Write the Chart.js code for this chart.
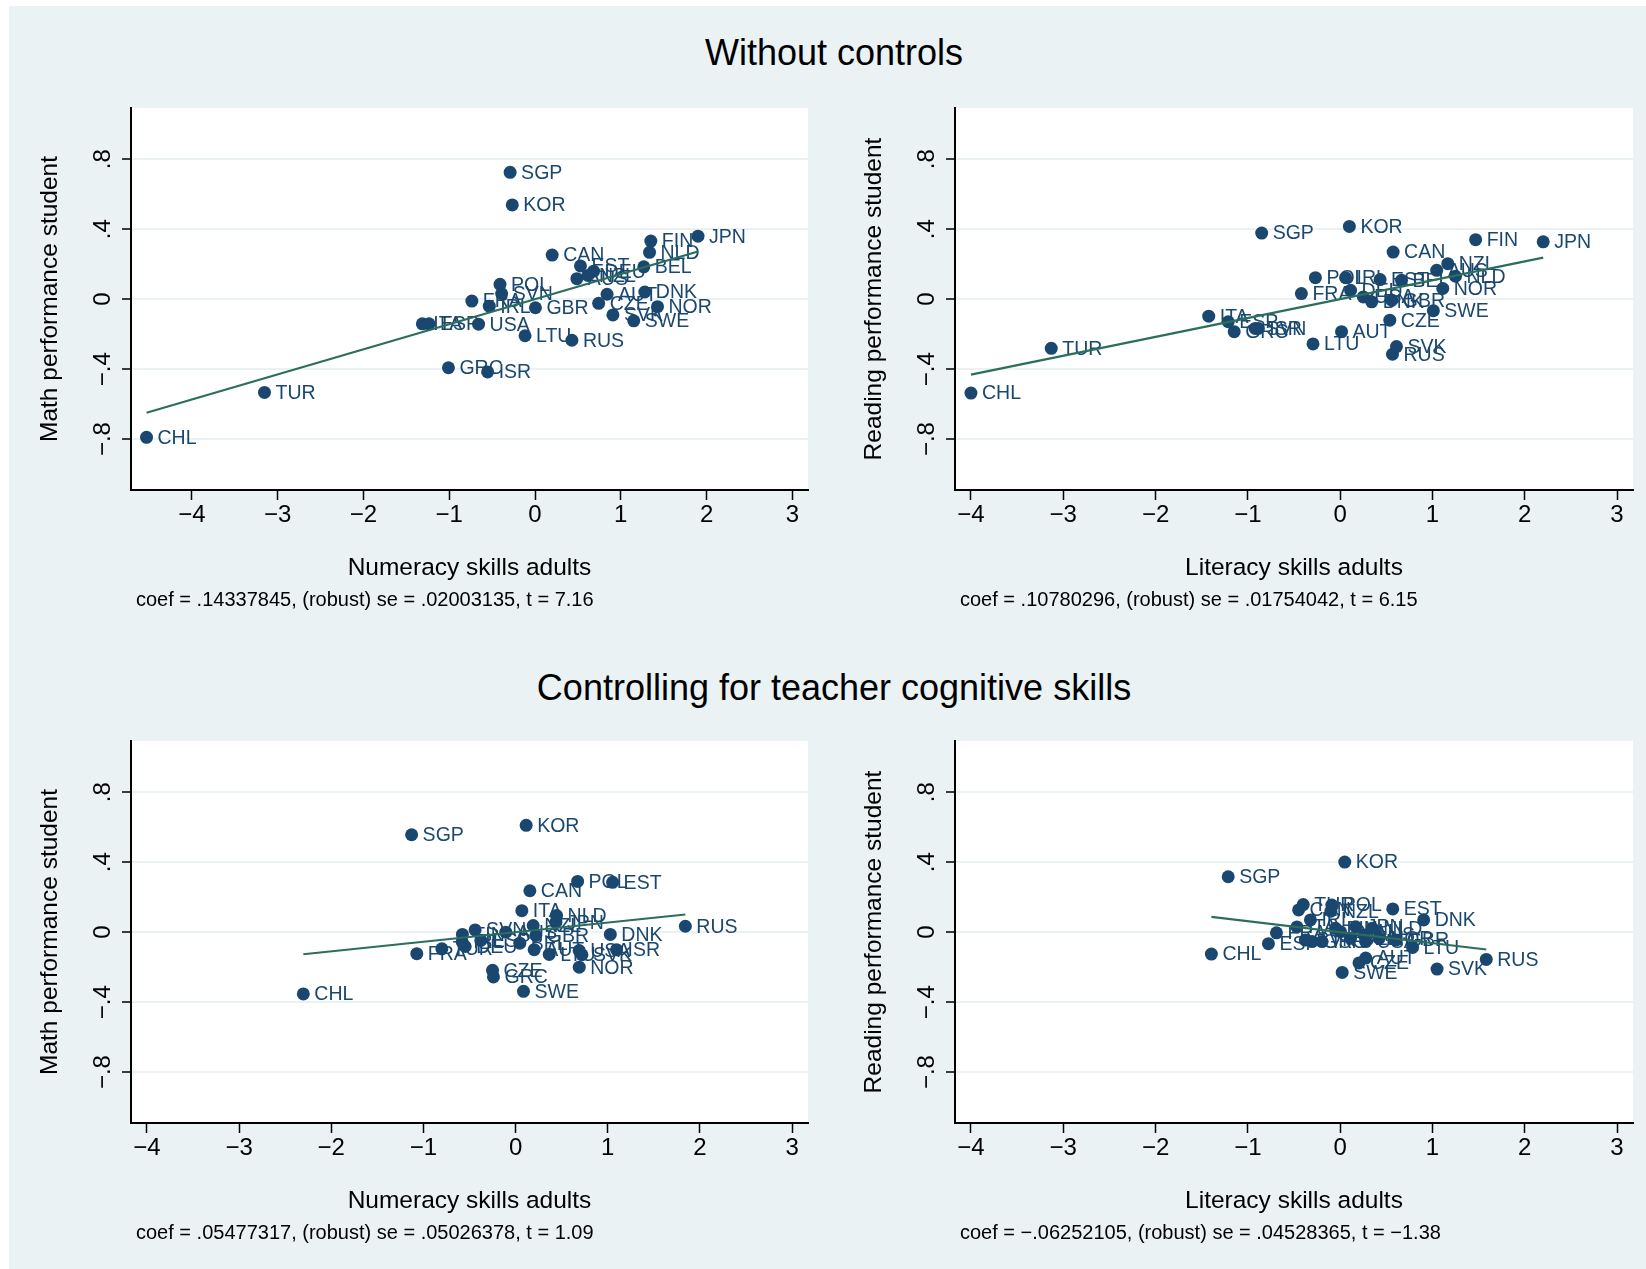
<!DOCTYPE html>
<html>
<head>
<meta charset="utf-8">
<script src="https://cdn.jsdelivr.net/npm/chart.js@4.4.1/dist/chart.umd.min.js"></script>
<style>
  html, body { margin: 0; padding: 0; background: #fff; }
  #page { position: relative; width: 1646px; height: 1269px; overflow: hidden; }
  #bg { position: absolute; left: 9px; top: 6px; right: 0; bottom: 0; background: #eaf2f3; }
  canvas { position: absolute; }
  .title { position: absolute; font: 36px 'Liberation Sans', Arial, sans-serif; line-height: 36px;
           white-space: nowrap; transform: translateX(-50%); color: #000; }
  .note { position: absolute; font: 20px 'Liberation Sans', Arial, sans-serif; line-height: 20px;
          white-space: nowrap; color: #000; }
</style>
</head>
<body>
<div id="page">
  <div id="bg"></div>
  <div class="title" style="left:834px; top:35px;">Without controls</div>
  <div class="title" style="left:834px; top:670px;">Controlling for teacher cognitive skills</div>
  <canvas id="p1"></canvas>
  <canvas id="p2"></canvas>
  <canvas id="p3"></canvas>
  <canvas id="p4"></canvas>
  <div class="note" id="n1" style="left:136px; top:589px;"></div>
  <div class="note" id="n2" style="left:960px; top:589px;"></div>
  <div class="note" id="n3" style="left:136px; top:1222px;"></div>
  <div class="note" id="n4" style="left:960px; top:1222px;"></div>
</div>
<script>
// Datos (residuos de avplot)
const countries = ['AUS', 'AUT', 'BEL', 'CAN', 'CHL', 'CZE', 'DNK', 'EST', 'FIN', 'FRA', 'DEU',
  'GRC', 'IRL', 'ISR', 'ITA', 'JPN', 'KOR', 'LTU', 'NLD', 'NZL', 'NOR', 'POL', 'RUS', 'SGP',
  'SVK', 'SVN', 'ESP', 'SWE', 'TUR', 'GBR', 'USA'];

// Sin controles
const numeracyRaw = [0.488, 0.84, 1.268, 0.20, -4.528, 0.742, 1.28, 0.53, 1.35, -0.736, 0.683,
  -1.009, -0.533, -0.552, -1.313, 1.90, -0.265, -0.116, 1.335, 0.617, 1.428, -0.408, 0.43, -0.29,
  0.908, -0.389, -1.235, 1.151, -3.153, 0.005, -0.658];
const mathRaw = [0.117, 0.028, 0.185, 0.252, -0.79, -0.024, 0.041, 0.19, 0.332, -0.011, 0.16,
  -0.392, -0.04, -0.416, -0.141, 0.36, 0.539, -0.209, 0.268, 0.136, -0.043, 0.085, -0.235, 0.725,
  -0.09, 0.032, -0.141, -0.124, -0.533, -0.049, -0.143];
const literacyRaw = [1.046, 0.015, 0.665, 0.574, -4.0, 0.538, 0.342, 0.433, 1.468, -0.42, 0.113,
  -1.148, 0.059, -0.886, -1.424, 2.2, 0.10, -0.294, 1.25, 1.166, 1.112, -0.268, 0.567, -0.85,
  0.61, -0.92, -1.213, 1.01, -3.13, 0.56, 0.251];
const readingRaw = [0.165, -0.186, 0.108, 0.269, -0.537, -0.12, -0.015, 0.112, 0.34, 0.032, 0.051,
  -0.186, 0.123, -0.167, -0.097, 0.328, 0.416, -0.256, 0.131, 0.203, 0.061, 0.123, -0.315, 0.378,
  -0.271, -0.167, -0.129, -0.066, -0.281, -0.006, 0.013];

// Controlando por habilidades del profesorado
const numeracyCtrl = [-0.106, 0.202, 0.046, 0.155, -2.303, -0.25, 1.028, 1.053, -0.577, -1.072, -0.547,
  -0.24, -0.58, 1.096, 0.068, 0.438, 0.115, 0.365, 0.445, 0.191, 0.691, 0.673, 1.842, -1.128,
  0.72, -0.439, -0.377, 0.086, -0.80, 0.22, 0.69];
const mathCtrl = [0.0, -0.10, -0.063, 0.237, -0.353, -0.218, -0.013, 0.285, -0.013, -0.123, -0.082,
  -0.256, -0.055, -0.10, 0.123, 0.057, 0.611, -0.127, 0.095, 0.038, -0.2, 0.29, 0.034, 0.557,
  -0.129, 0.013, -0.047, -0.338, -0.095, -0.019, -0.105];
const literacyCtrl = [0.258, 0.277, 0.113, -0.45, -1.395, 0.204, 0.905, 0.57, -0.05, -0.69, 0.004,
  -0.305, -0.322, -0.196, -0.468, 0.168, 0.05, 0.785, 0.349, -0.1, 0.422, -0.09, 1.583, -1.213,
  1.05, -0.377, -0.777, 0.022, -0.4, 0.604, 0.277];
const readingCtrl = [-0.016, -0.148, -0.035, 0.127, -0.125, -0.176, 0.07, 0.133, 0.022, -0.004, 0.003,
  -0.054, 0.07, -0.054, 0.03, 0.031, 0.401, -0.087, 0.022, 0.12, -0.035, 0.155, -0.156, 0.317,
  -0.211, -0.045, -0.066, -0.23, 0.158, -0.045, -0.054];

const coefs = [0.14337845, 0.10780296, 0.05477317, -0.06252105];
const notes = [
  'coef = .14337845, (robust) se = .02003135, t = 7.16',
  'coef = .10780296, (robust) se = .01754042, t = 6.15',
  'coef = .05477317, (robust) se = .05026378, t = 1.09',
  'coef = \u2212.06252105, (robust) se = .04528365, t = \u22121.38'
];

const xTickValues = [-4, -3, -2, -1, 0, 1, 2, 3];
const xTickLabels = ['\u22124', '\u22123', '\u22122', '\u22121', '0', '1', '2', '3'];
const yTickValues = [-0.8, -0.4, 0, 0.4, 0.8];
const yTickLabels = ['\u2212.8', '\u2212.4', '0', '.4', '.8'];

// Geometría
const FONT = "'Liberation Sans', Arial, sans-serif";
const NAVY = '#1a476f';
const FIT_COLOR = '#2b6e5c';
const PAD_TOP = 20, PAD_RIGHT = 10, Y_AXIS_W = 111, X_AXIS_H = 130;

const panels = [
  { id: 'p1', area: [131, 108, 808, 490], xs: numeracyRaw, ys: mathRaw, coef: coefs[0],
    xRange: [-4.709, 3.182], xTitle: 'Numeracy skills adults', yTitle: 'Math performance student' },
  { id: 'p2', area: [955, 108, 1633, 490], xs: literacyRaw, ys: readingRaw, coef: coefs[1],
    xRange: [-4.173, 3.173], xTitle: 'Literacy skills adults', yTitle: 'Reading performance student' },
  { id: 'p3', area: [131, 741, 808, 1123], xs: numeracyCtrl, ys: mathCtrl, coef: coefs[2],
    xRange: [-4.173, 3.173], xTitle: 'Numeracy skills adults', yTitle: 'Math performance student' },
  { id: 'p4', area: [955, 741, 1633, 1123], xs: literacyCtrl, ys: readingCtrl, coef: coefs[3],
    xRange: [-4.173, 3.173], xTitle: 'Literacy skills adults', yTitle: 'Reading performance student' }
];

// Fondo blanco del área de trazado
const plotBackground = {
  id: 'plotBackground',
  beforeDraw(chart) {
    const { ctx, chartArea: a } = chart;
    ctx.save();
    ctx.fillStyle = '#fff';
    ctx.fillRect(a.left, a.top, a.right - a.left, a.bottom - a.top);
    ctx.restore();
  }
};

// Etiquetas de país junto a cada punto
const pointLabels = {
  id: 'pointLabels',
  afterDatasetDraw(chart, args) {
    if (args.index !== 1) return;
    const ctx = chart.ctx;
    ctx.save();
    ctx.font = '19.5px ' + FONT;
    ctx.fillStyle = NAVY;
    ctx.textBaseline = 'middle';
    ctx.textAlign = 'left';
    args.meta.data.forEach((pt, i) => ctx.fillText(countries[i], pt.x + 11, pt.y + 1));
    ctx.restore();
  }
};

const makePanel = (p) => {
  const [left, top, right, bottom] = p.area;
  const canvas = document.getElementById(p.id);
  const w = right - left + Y_AXIS_W + PAD_RIGHT;
  const h = bottom - top + PAD_TOP + X_AXIS_H;
  canvas.width = w;
  canvas.height = h;
  canvas.style.width = w + 'px';
  canvas.style.height = h + 'px';
  canvas.style.left = (left - Y_AXIS_W) + 'px';
  canvas.style.top = (top - PAD_TOP) + 'px';

  const lo = Math.min(...p.xs);
  const hi = Math.max(...p.xs);

  return new Chart(canvas.getContext('2d'), {
    type: 'scatter',
    data: {
      datasets: [{
        type: 'line',
        data: [{ x: lo, y: p.coef * lo }, { x: hi, y: p.coef * hi }],
        borderColor: FIT_COLOR,
        borderWidth: 2.2,
        pointRadius: 0,
        fill: false
      }, {
        data: p.xs.map((x, i) => ({ x, y: p.ys[i] })),
        pointRadius: 6.5,
        pointHoverRadius: 6.5,
        pointBackgroundColor: NAVY,
        pointBorderWidth: 0
      }]
    },
    options: {
      responsive: false,
      animation: false,
      events: [],
      layout: { padding: { top: PAD_TOP, right: PAD_RIGHT, left: 0, bottom: 0 } },
      plugins: { legend: { display: false }, tooltip: { enabled: false } },
      scales: {
        x: {
          type: 'linear',
          min: p.xRange[0],
          max: p.xRange[1],
          afterBuildTicks: (s) => { s.ticks = xTickValues.map(v => ({ value: v })); },
          afterFit: (s) => { s.height = X_AXIS_H; s.paddingLeft = 0; s.paddingRight = 0; },
          border: { display: true, color: '#000', width: 2 },
          grid: { drawOnChartArea: false, drawTicks: true, tickLength: 10, tickWidth: 1.5, tickColor: '#000' },
          ticks: {
            autoSkip: false, maxRotation: 0, minRotation: 0, padding: 1, color: '#000',
            font: { family: FONT, size: 24, lineHeight: 1.2 },
            callback: (v, i) => xTickLabels[i]
          },
          title: {
            display: true, text: p.xTitle, color: '#000',
            font: { family: FONT, size: 24.5, lineHeight: 1.2 },
            padding: { top: 0, bottom: 37 }
          }
        },
        y: {
          type: 'linear',
          min: -1.091,
          max: 1.093,
          afterBuildTicks: (s) => { s.ticks = yTickValues.map(v => ({ value: v })); },
          afterFit: (s) => { s.width = Y_AXIS_W; s.paddingTop = 0; s.paddingBottom = 0; },
          border: { display: true, color: '#000', width: 2 },
          grid: { color: '#eaf2f3', lineWidth: 2, drawTicks: true, tickLength: 9, tickWidth: 1.5, tickColor: '#000' },
          ticks: {
            autoSkip: false, minRotation: 90, maxRotation: 90, crossAlign: 'center', padding: 2,
            color: '#000', font: { family: FONT, size: 24, lineHeight: 1.2 },
            callback: (v, i) => yTickLabels[i]
          },
          title: {
            display: true, text: p.yTitle, color: '#000',
            font: { family: FONT, size: 24.5, lineHeight: 1.2 },
            padding: { top: 16, bottom: 0 }
          }
        }
      }
    },
    plugins: [plotBackground, pointLabels]
  });
};

panels.forEach(makePanel);
notes.forEach((t, i) => { document.getElementById('n' + (i + 1)).textContent = t; });
</script>
</body>
</html>
